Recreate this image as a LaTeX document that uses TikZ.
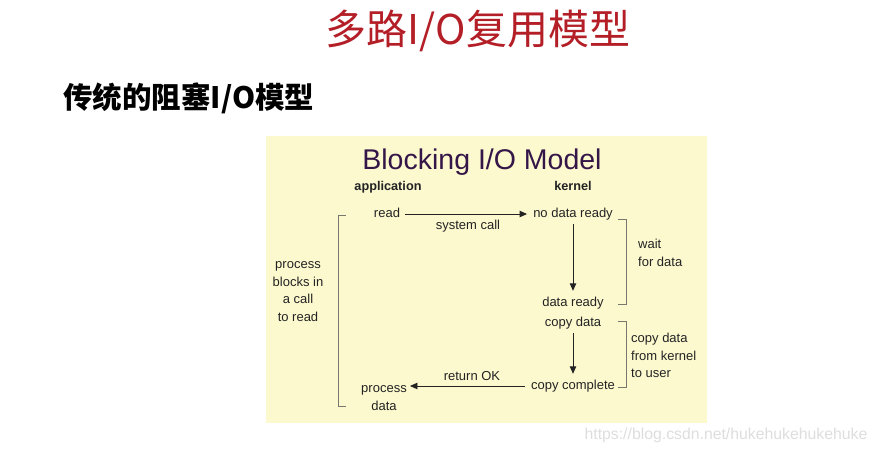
\documentclass[tikz,border=0pt]{standalone}
\usepackage{fontspec}
\setmainfont{Liberation Sans}
\newfontfamily\cjk{Noto Sans CJK SC}
\usetikzlibrary{arrows.meta}
\definecolor{panelyellow}{RGB}{252,249,207}
\definecolor{titlered}{RGB}{180,30,38}
\definecolor{modelpurple}{RGB}{52,22,72}
\definecolor{inkgray}{RGB}{35,35,35}
\definecolor{brackgray}{RGB}{120,120,110}
\definecolor{wmgray}{RGB}{222,222,222}
\tikzset{
  lbl/.style={inner sep=0pt, text=inkgray, font=\fontsize{13}{17}\selectfont, text height=9.5pt, text depth=2.5pt},
  hdr/.style={lbl, font=\fontsize{12.7}{16}\selectfont\bfseries},
  flow/.style={draw=inkgray, line width=0.9pt, -{Triangle[length=7.5pt,width=6.5pt]}},
  brack/.style={draw=brackgray, line width=0.9pt}
}
\begin{document}
\begin{tikzpicture}[x=1pt,y=-1pt]
\useasboundingbox (0,0) rectangle (879,452);
\fill[white] (0,0) rectangle (879,452);
% headings
\node[inner sep=0pt, text=titlered, font=\cjk\fontsize{41}{48}\selectfont] (title) at (478,30.5) {多路I/O复用模型};
\node[inner sep=0pt, anchor=west, text=black, font=\cjk\bfseries\fontsize{29.5}{34}\selectfont] (sub) at (63,98) {传统的阻塞I/O模型};
% panel
\fill[panelyellow] (266,136) rectangle (707,423);
\node[inner sep=0pt, text=modelpurple, font=\fontsize{28.5}{32}\selectfont] (model) at (482,162) {Blocking I/O Model};
\node[hdr] (app) at (388,187) {application};
\node[hdr] (kern) at (573,187) {kernel};
% flow nodes
\node[lbl] (read) at (387,214) {read};
\node[lbl] (nodata) at (573,214) {no data ready};
\node[lbl] (syscall) at (468,226) {system call};
\node[lbl] (dready) at (573,303) {data ready};
\node[lbl] (cdata) at (573,323) {copy data};
\node[lbl] (ccomp) at (573,386) {copy complete};
\node[lbl] (retok) at (472,377) {return OK};
\node[lbl] (proc) at (384,389) {process};
\node[lbl] (pdata) at (384,407) {data};
% side notes
\node[lbl, anchor=west] (wait1) at (638,245) {wait};
\node[lbl, anchor=west] (wait2) at (638,263) {for data};
\node[lbl, anchor=west] (cp1) at (631,339) {copy data};
\node[lbl, anchor=west] (cp2) at (631,357) {from kernel};
\node[lbl, anchor=west] (cp3) at (631,374) {to user};
\node[lbl] (pb1) at (298,265) {process};
\node[lbl] (pb2) at (298,283) {blocks in};
\node[lbl] (pb3) at (298,300) {a call};
\node[lbl] (pb4) at (298,318) {to read};
% arrows
\draw[flow, shorten <=5pt, shorten >=6pt] (read.east) -- (nodata.west);
\draw[flow, shorten <=4pt, shorten >=6pt] (nodata.south) -- (dready.north);
\draw[flow, shorten <=4pt, shorten >=6pt] (cdata.south) -- (ccomp.north);
\draw[flow, shorten <=6pt, shorten >=3pt] (ccomp.west) -- (ccomp.west -| proc.east);
% brackets
\coordinate (wa) at (618,219); \coordinate (wb) at (626,219);
\coordinate (wc) at (626,304); \coordinate (wd) at (618,304);
\draw[brack] (wa) -- (wb) -- (wc) -- (wd);
\coordinate (ca) at (618,321); \coordinate (cb) at (626,321);
\coordinate (cc) at (626,387); \coordinate (cd) at (618,387);
\draw[brack] (ca) -- (cb) -- (cc) -- (cd);
\coordinate (la) at (346,215); \coordinate (lb) at (338,215);
\coordinate (lc) at (338,406); \coordinate (ld) at (346,406);
\draw[brack] (la) -- (lb) -- (lc) -- (ld);
% watermark
\node[inner sep=0pt, text=wmgray, font=\fontsize{15.8}{18}\selectfont] (wm) at (726,435) {https://blog.csdn.net/hukehukehukehuke};
\end{tikzpicture}
\end{document}
